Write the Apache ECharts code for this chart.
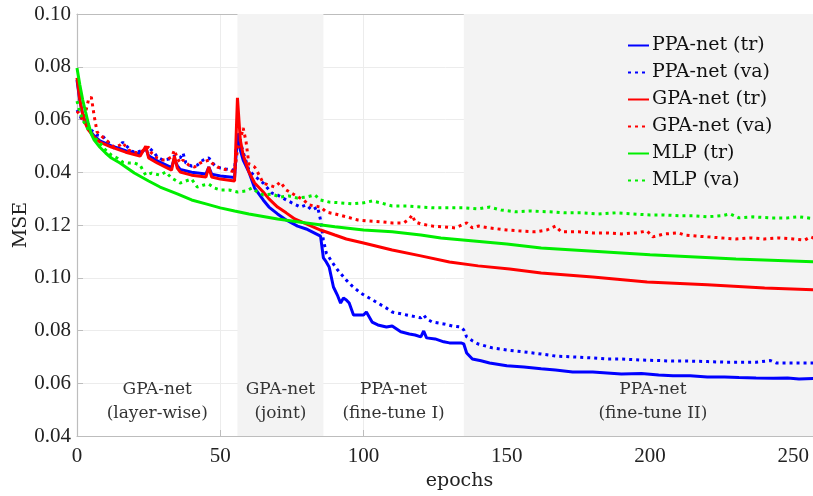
<!DOCTYPE html>
<html>
<head>
<meta charset="utf-8">
<script src="https://cdn.jsdelivr.net/npm/echarts@6/dist/echarts.min.js"></script>
<style>
  html, body { margin: 0; background: #fff; }
  #chart { width: 813px; height: 496px; }
</style>
</head>
<body>
<div id="chart"></div>
<script>
// datos: [epoch, valor en unidades del eje]
// (el eje tiene etiquetas repetidas arriba, ver yTickLabels)
const yTickLabels = ['0.04', '0.06', '0.08', '0.10', '0.12', '0.04', '0.06', '0.08', '0.10'];
const xTicks = [0, 50, 100, 150, 200, 250];

const seriesNames = ['PPA-net (tr)', 'PPA-net (va)', 'GPA-net (tr)', 'GPA-net (va)', 'MLP (tr)', 'MLP (va)'];

const ppaTr = [
  [0,0.1750],[1,0.1670],[2,0.1620],[3,0.1588],[4,0.1565],[6,0.1538],[8,0.1519],[12,0.1500],[17,0.1482],
  [22,0.1468],[23,0.1480],[24,0.1492],[25,0.1462],[28,0.1443],[33,0.1418],[34,0.1452],[35,0.1425],
  [36,0.1411],[40,0.1400],[45,0.1393],[46,0.1420],[47,0.1393],[50,0.1386],[55,0.1380],[56,0.1541],
  [57,0.1484],[58,0.1446],[60,0.1401],[62,0.1340],[65,0.1295],[67,0.1268],[70,0.1242],[73,0.1219],
  [77,0.1196],[80,0.1185],[85,0.1158],[86,0.1075],[87,0.1060],[88,0.1041],[89.5,0.0965],[91,0.0931],
  [92,0.0904],[93,0.0923],[94,0.0916],[95,0.0904],[96.5,0.0859],[98,0.0859],[100,0.0859],[101,0.0870],
  [103,0.0832],[105,0.0821],[108,0.0813],[110,0.0817],[113,0.0795],[116,0.0787],[118,0.0783],[120,0.0776],
  [121,0.0798],[122,0.0772],[125,0.0768],[128,0.0757],[130,0.0753],[134,0.0753],[135,0.0749],[136,0.0715],
  [138,0.0692],[141,0.0685],[144,0.0677],[150,0.0666],[156,0.0662],[162,0.0655],[167,0.0650],[173,0.0643],
  [180,0.0643],[185,0.0639],[190,0.0635],[197,0.0637],[203,0.0631],[208,0.0628],[214,0.0628],[220,0.0624],
  [226,0.0624],[231,0.0622],[237,0.0620],[243,0.0619],[248,0.0620],[252,0.0616],[258,0.0619]
];

const ppaVa = [
  [0,0.1636],[1,0.1617],[2,0.1590],[3,0.1598],[5,0.1560],[7,0.1541],[9,0.1537],[11,0.1511],[13,0.1492],
  [14,0.1484],[16,0.1514],[17,0.1503],[19,0.1480],[21,0.1476],[23,0.1484],[25,0.1495],[27,0.1473],
  [28,0.1458],[30,0.1446],[32,0.1450],[34,0.1461],[36,0.1454],[37,0.1473],[38,0.1435],[40,0.1423],
  [42,0.1427],[44,0.1446],[46,0.1454],[48,0.1427],[50,0.1416],[52,0.1412],[55,0.1408],[56,0.1552],
  [58,0.1476],[60,0.1408],[62,0.1386],[65,0.1359],[68,0.1321],[70,0.1314],[73,0.1295],[75,0.1284],
  [78,0.1268],[80,0.1276],[82,0.1257],[84,0.1268],[85,0.1219],[86,0.1143],[87,0.1094],[89,0.1060],
  [91,0.1029],[94,0.0991],[96,0.0969],[99,0.0942],[102,0.0923],[105,0.0904],[108,0.0885],[110,0.0870],
  [115,0.0859],[120,0.0848],[121,0.0859],[122,0.0844],[124,0.0832],[128,0.0825],[131,0.0817],[134,0.0813],
  [135,0.0802],[136,0.0776],[138,0.0761],[140,0.0749],[145,0.0734],[150,0.0726],[156,0.0719],[162,0.0711],
  [167,0.0703],[173,0.0700],[180,0.0696],[185,0.0692],[190,0.0692],[197,0.0688],[203,0.0686],[208,0.0684],
  [214,0.0684],[220,0.0682],[226,0.0680],[231,0.0680],[237,0.0680],[242,0.0686],[244,0.0677],[250,0.0677],
  [258,0.0677]
];

const gpaTr = [
  [0,0.1758],[1,0.1674],[2,0.1617],[3,0.1583],[4,0.1560],[6,0.1533],[8,0.1514],[12,0.1495],[17,0.1476],
  [22,0.1461],[23,0.1480],[24,0.1499],[25,0.1454],[28,0.1435],[33,0.1408],[34,0.1461],[35,0.1416],
  [36,0.1401],[40,0.1389],[45,0.1382],[46,0.1420],[47,0.1382],[50,0.1374],[55,0.1367],[56,0.1682],
  [57,0.1522],[58,0.1465],[60,0.1401],[62,0.1359],[65,0.1325],[67,0.1299],[70,0.1268],[73,0.1246],
  [76,0.1223],[80,0.1204],[85,0.1181],[90,0.1162],[94,0.1147],[100,0.1132],[110,0.1105],[120,0.1083],
  [130,0.1060],[140,0.1045],[151,0.1033],[162,0.1018],[180,0.1003],[199,0.0984],[220,0.0973],[240,0.0961],
  [258,0.0954]
];

const gpaVa = [
  [0,0.1632],[1,0.1617],[2,0.1598],[3,0.1628],[4,0.1674],[5,0.1685],[6,0.1613],[7,0.1553],[9,0.1533],
  [11,0.1514],[13,0.1495],[15,0.1503],[16,0.1511],[18,0.1484],[20,0.1476],[22,0.1473],[24,0.1492],
  [25,0.1495],[26,0.1473],[28,0.1454],[30,0.1446],[31,0.1446],[33,0.1458],[34,0.1484],[35,0.1454],
  [36,0.1435],[37,0.1446],[39,0.1427],[41,0.1420],[43,0.1435],[45,0.1442],[46,0.1446],[47,0.1435],
  [49,0.1420],[51,0.1412],[53,0.1408],[55,0.1401],[56,0.1484],[57,0.1522],[58,0.1568],[59,0.1516],
  [60,0.1431],[62,0.1420],[63,0.1401],[65,0.1359],[67,0.1351],[69,0.1344],[71,0.1363],[73,0.1333],
  [76,0.1314],[79,0.1295],[81,0.1276],[83,0.1272],[85,0.1268],[87,0.1249],[90,0.1242],[94,0.1231],
  [98,0.1219],[102,0.1215],[106,0.1212],[110,0.1208],[114,0.1208],[116,0.1223],[117,0.1238],[118,0.1212],
  [120,0.1204],[124,0.1196],[128,0.1193],[132,0.1189],[136,0.1208],[138,0.1189],[140,0.1196],[144,0.1189],
  [150,0.1181],[155,0.1177],[160,0.1174],[164,0.1181],[167,0.1196],[169,0.1174],[175,0.1174],[180,0.1170],
  [185,0.1170],[190,0.1166],[195,0.1170],[199,0.1177],[201,0.1155],[205,0.1166],[210,0.1170],[212,0.1162],
  [216,0.1158],[220,0.1155],[225,0.1151],[230,0.1147],[235,0.1151],[240,0.1147],[245,0.1151],[250,0.1147],
  [254,0.1143],[256,0.1155],[258,0.1147]
];

const mlpTr = [
  [0,0.1795],[1,0.1731],[2,0.1674],[3,0.1628],[4,0.1583],[5,0.1545],[6,0.1522],[8,0.1495],[10,0.1473],
  [12,0.1454],[15,0.1435],[17,0.1420],[20,0.1397],[25,0.1367],[29,0.1344],[35,0.1318],[40,0.1295],
  [45,0.1280],[50,0.1265],[55,0.1253],[60,0.1242],[70,0.1223],[80,0.1208],[90,0.1193],[100,0.1181],
  [110,0.1174],[120,0.1162],[127,0.1151],[150,0.1128],[162,0.1113],[200,0.1087],[230,0.1071],[258,0.1060]
];

const mlpVa = [
  [0,0.1670],[1,0.1628],[2,0.1598],[4,0.1560],[6,0.1533],[8,0.1511],[10,0.1484],[12,0.1465],[14,0.1454],
  [16,0.1438],[18,0.1435],[20,0.1435],[22,0.1427],[24,0.1389],[26,0.1397],[29,0.1389],[31,0.1401],
  [33,0.1378],[36,0.1359],[38,0.1367],[40,0.1374],[42,0.1344],[44,0.1351],[46,0.1355],[48,0.1340],
  [50,0.1333],[53,0.1333],[56,0.1325],[59,0.1329],[61,0.1340],[63,0.1325],[65,0.1314],[68,0.1317],
  [71,0.1306],[74,0.1310],[77,0.1302],[80,0.1306],[83,0.1314],[85,0.1295],[88,0.1287],[92,0.1284],
  [96,0.1280],[100,0.1284],[103,0.1291],[106,0.1284],[110,0.1272],[115,0.1272],[120,0.1268],[125,0.1265],
  [130,0.1265],[135,0.1265],[140,0.1261],[144,0.1268],[148,0.1257],[153,0.1250],[158,0.1253],[165,0.1250],
  [170,0.1246],[176,0.1246],[182,0.1242],[188,0.1246],[194,0.1242],[200,0.1238],[205,0.1238],[210,0.1235],
  [215,0.1235],[220,0.1231],[225,0.1235],[228,0.1242],[231,0.1227],[236,0.1231],[242,0.1227],[248,0.1227],
  [252,0.1231],[258,0.1223]
];

// fases del entrenamiento (inicio, fin, texto, sombreado)
const fases = [
  [0, 56, 'GPA-net\n(layer-wise)', false],
  [56, 86, 'GPA-net\n(joint)', true],
  [86, 135, 'PPA-net\n(fine-tune I)', false],
  [135, 267, 'PPA-net\n(fine-tune II)', true]
];

const serif = 'DejaVu Serif';
const serifNum = 'Liberation Serif';

const iniciarGrafico = () => {
  const grafico = echarts.init(document.getElementById('chart'), null, { renderer: 'canvas' });

  const linea = (name, data, color, dotted) => ({
    name: name,
    type: 'line',
    data: data,
    symbol: 'none',
    showSymbol: false,
    smooth: false,
    animation: false,
    lineStyle: {
      color: color,
      width: 3,
      type: dotted ? [3, 4] : 'solid',
      cap: 'butt'
    },
    itemStyle: { color: color }
  });

  const series = [
    linea(seriesNames[0], ppaTr, '#0000ff', false),
    linea(seriesNames[1], ppaVa, '#0000ff', true),
    linea(seriesNames[2], gpaTr, '#ff0000', false),
    linea(seriesNames[3], gpaVa, '#ff0000', true),
    linea(seriesNames[4], mlpTr, '#00ee00', false),
    linea(seriesNames[5], mlpVa, '#00ee00', true)
  ];

  // zonas sombreadas y textos de cada fase
  series[0].markArea = {
    silent: true,
    label: {
      show: true,
      position: 'insideBottom',
      distance: 10,
      fontFamily: serif,
      fontSize: 17,
      lineHeight: 24,
      color: '#333'
    },
    data: fases.map(f => [
      { xAxis: f[0], name: f[2], itemStyle: { color: f[3] ? '#f3f3f3' : 'rgba(0,0,0,0)' } },
      { xAxis: f[1] }
    ])
  };

  const ejeGris = { color: '#bdbdbd', width: 1.2 };

  const option = {
    backgroundColor: '#fff',
    animation: false,
    grid: { left: 77, right: -29, top: 14, bottom: 60, containLabel: false, outerBoundsMode: 'none' },
    legend: {
      orient: 'vertical',
      left: 627,
      top: 36,
      padding: 0,
      itemWidth: 21,
      itemHeight: 14,
      itemGap: 8,
      itemStyle: { opacity: 0 },
      data: seriesNames,
      textStyle: { fontFamily: serif, fontSize: 19, color: '#111', lineHeight: 19, padding: [0, 0, 0, -2] }
    },
    xAxis: [{
      type: 'value',
      min: 0,
      max: 267,
      interval: 50,
      name: 'epochs',
      nameLocation: 'middle',
      nameGap: 36,
      nameTextStyle: { fontFamily: serif, fontSize: 19, color: '#222' },
      axisLine: { lineStyle: ejeGris },
      axisTick: { inside: true, length: 6, lineStyle: { color: '#bdbdbd' } },
      axisLabel: {
        fontFamily: serifNum, fontSize: 21, color: '#222', margin: 10,
        showMaxLabel: false,
        formatter: v => xTicks.includes(v) ? String(v) : ''
      },
      splitLine: { show: true, lineStyle: { color: '#ececec', width: 1 } }
    }, {
      // borde superior del area del grafico
      type: 'value',
      position: 'top',
      min: 0,
      max: 267,
      interval: 50,
      axisLine: { show: true, lineStyle: ejeGris },
      axisTick: { show: false },
      axisLabel: { show: false },
      splitLine: { show: false }
    }],
    yAxis: [{
      type: 'value',
      min: 0.04,
      max: 0.20,
      interval: 0.02,
      name: 'MSE',
      nameLocation: 'middle',
      nameGap: 46,
      nameMoveOverlap: false,
      nameRotate: 90,
      nameTextStyle: { fontFamily: serif, fontSize: 19, color: '#222' },
      axisLine: { show: true, lineStyle: ejeGris },
      axisTick: { show: true, inside: true, length: 6, lineStyle: { color: '#bdbdbd' } },
      axisLabel: {
        fontFamily: serifNum, fontSize: 21, color: '#222', margin: 6,
        formatter: v => yTickLabels[Math.round((v - 0.04) / 0.02)]
      },
      splitLine: { show: true, lineStyle: { color: '#ececec', width: 1 } }
    }],
    series: series
  };

  grafico.setOption(option);
};

window.addEventListener('load', () => {
  iniciarGrafico();
});
</script>
</body>
</html>
